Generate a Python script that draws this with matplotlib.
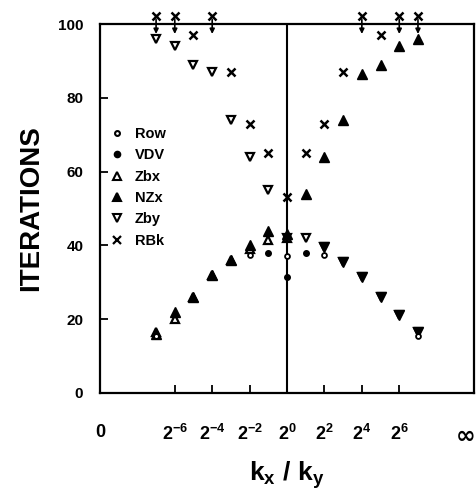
import matplotlib
matplotlib.use("Agg")
import matplotlib.pyplot as plt
import numpy as np

plt.rcParams['font.family'] = ['Liberation Sans', 'DejaVu Sans']
plt.rcParams['font.weight'] = 'bold'
plt.rcParams['mathtext.fontset'] = 'custom'
plt.rcParams['mathtext.rm'] = 'Liberation Sans:bold'
plt.rcParams['mathtext.bf'] = 'Liberation Sans:bold'
plt.rcParams['mathtext.it'] = 'Liberation Sans:bold'

# log2(kx/ky) positions
x_all = [-7, -6, -5, -4, -3, -2, -1, 0, 1, 2, 3, 4, 5, 6, 7]

# RBk (None => off-scale, above 100)
rbk = [None, None, 97, None, 87, 73, 65, 53, 65, 73, 87, None, 97, None, None]
# NZx filled up triangles
nzx = [16, 22, 26, 32, 36, 40, 44, 43, 54, 64, 74, 86.5, 89, 94, 96]
# Zby open down triangles
zby = [96, 94, 89, 87, 74, 64, 55, 42, 42, 39.5, 35.5, 31.5, 26, 21, 16.5]
# Zbx open up triangles
x_zbx = [-7, -6, -5, -4, -3, -2, -1, 0]
zbx = [16.5, 20, 26, 32, 36, 39, 41.5, 42]
# filled down triangles (right side, lower)
x_fdn = [2, 3, 4, 5, 6, 7]
fdn = [39.5, 35.5, 31.5, 26, 21, 16.5]
# Row open circles
x_row = [-7, -2, 0, 2, 7]
row = [15.5, 37.5, 37, 37.5, 15.5]
# VDV filled circles
x_vdv = [-1, 0, 1]
vdv = [38, 31.5, 38]

xtick_pos = [-10, -6, -4, -2, 0, 2, 4, 6, 10]
xtick_lab = ['0', r'$\mathbf{2^{-6}}$', r'$\mathbf{2^{-4}}$', r'$\mathbf{2^{-2}}$',
             r'$\mathbf{2^{0}}$', r'$\mathbf{2^{2}}$', r'$\mathbf{2^{4}}$',
             r'$\mathbf{2^{6}}$', '']
ytick_pos = [0, 20, 40, 60, 80, 100]

fig = plt.figure(figsize=(4.76, 4.90), dpi=100)
ax = fig.add_axes([0.210, 0.198, 0.786, 0.753])
ax.set_xlim(-10, 10)
ax.set_ylim(0, 100)

ax.axvline(0, color='black', lw=1.5, zorder=1)

ms = 6
mew = 1.6
ax.plot(x_zbx, zbx, linestyle='none', marker='^', ms=ms, mfc='white', mec='black', mew=mew, zorder=3)
ax.plot(x_all, zby, linestyle='none', marker='v', ms=ms, mfc='white', mec='black', mew=mew, zorder=3)
ax.plot(x_all, nzx, linestyle='none', marker='^', ms=ms+0.5, mfc='black', mec='black', mew=1, zorder=4)
ax.plot(x_fdn, fdn, linestyle='none', marker='v', ms=ms+0.5, mfc='black', mec='black', mew=1, zorder=4)
ax.plot(x_row, row, linestyle='none', marker='o', ms=3.5, mfc='white', mec='black', mew=1.3, zorder=5)
ax.plot(x_vdv, vdv, linestyle='none', marker='o', ms=4, mfc='black', mec='black', zorder=5)
xr = [x for x, v in zip(x_all, rbk) if v is not None]
yr = [v for v in rbk if v is not None]
ax.plot(xr, yr, linestyle='none', marker='x', ms=ms, mec='black', mew=1.8, zorder=5)
xo = [x for x, v in zip(x_all, rbk) if v is None]
ax.plot(xo, [102.3] * len(xo), linestyle='none', marker='x', ms=ms, mec='black', mew=1.8,
        clip_on=False, zorder=6)
for x in xo:
    ax.annotate('', xy=(x, 97.3), xytext=(x, 101.2),
                arrowprops=dict(arrowstyle='-|>', color='black', lw=1.2,
                                mutation_scale=7, shrinkA=0, shrinkB=0),
                annotation_clip=False, zorder=6)

leg_items = [('o', 'white', 'Row', 3.5), ('o', 'black', 'VDV', 4),
             ('^', 'white', 'Zbx', ms), ('^', 'black', 'NZx', ms),
             ('v', 'white', 'Zby', ms), ('x', 'black', 'RBk', ms)]
handles = []
for m, fc, lab, s in leg_items:
    if m == 'x':
        h, = ax.plot([], [], linestyle='none', marker='x', ms=s, mec='black', mew=1.6, label=lab)
    else:
        h, = ax.plot([], [], linestyle='none', marker=m, ms=s, mfc=fc, mec='black', mew=1.5, label=lab)
    handles.append(h)
leg = ax.legend(handles=handles, loc='upper left', bbox_to_anchor=(0.0, 0.748),
                frameon=False, fontsize=10.5, handlelength=1.0, handletextpad=0.7,
                labelspacing=0.5, borderaxespad=0.3)
for t in leg.get_texts():
    t.set_fontweight('bold')

for s in ax.spines.values():
    s.set_linewidth(1.6)

ax.set_xticks(xtick_pos)
ax.set_xticklabels(xtick_lab, fontsize=13, fontweight='bold')
ax.set_yticks(ytick_pos)
ax.set_yticklabels([str(v) for v in ytick_pos], fontsize=11, fontweight='bold')
ax.tick_params(axis='x', direction='in', length=6, width=1.3, pad=22)
ax.tick_params(axis='y', direction='in', length=6, width=1.3, pad=12)
ticks = ax.xaxis.get_major_ticks()
ticks[0].tick1line.set_visible(False)
ticks[-1].tick1line.set_visible(False)

# infinity label at the right end
fig.text(0.999, 1 - 436 / 490, '∞', ha='right', va='center', fontsize=17,
         fontweight='bold', family='DejaVu Sans')

ax.set_ylabel('ITERATIONS', fontsize=20, fontweight='bold', labelpad=10)
ax.set_xlabel(r'$\mathbf{k_x\ /\ k_y}$', fontsize=19, labelpad=11)

fig.savefig('out.png', dpi=100)
